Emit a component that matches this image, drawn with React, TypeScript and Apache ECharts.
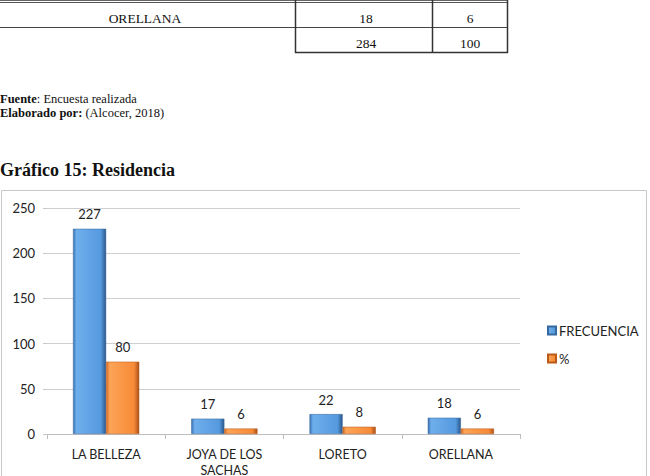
import React, { useEffect, useRef } from "react";
import * as echarts from "echarts";

const categories = ["LA BELLEZA", "JOYA DE LOS\nSACHAS", "LORETO", "ORELLANA"];
const frecuencia = [227, 17, 22, 18];
const porcentaje = [80, 6, 8, 6];
const seriesNames = ["FRECUENCIA", "%"];
const tableLastRow = ["ORELLANA", "18", "6"];
const tableTotals = ["284", "100"];
const yTicks = { min: 0, max: 250, interval: 50 };

const serif = "'Liberation Serif', 'DejaVu Serif', serif";
const sans = "Lato, 'Noto Sans', sans-serif";

function bevel(edgeL: string, light: string, mid: string, edgeR: string) {
  return new echarts.graphic.LinearGradient(0, 0, 1, 0, [
    { offset: 0, color: edgeL },
    { offset: 0.1, color: light },
    { offset: 0.85, color: mid },
    { offset: 1, color: edgeR },
  ]);
}

export default function App() {
  const ref = useRef<HTMLDivElement>(null);

  useEffect(() => {
    if (!ref.current) return;
    const chart = echarts.init(ref.current, null, { renderer: "svg" });
    const line = (x1: number, y1: number, x2: number, y2: number, w = 1, c = "#333") => ({
      type: "line",
      shape: { x1, y1, x2, y2 },
      style: { stroke: c, lineWidth: w },
      silent: true,
    });
    const txt = (x: number, y: number, text: string, font: string, align = "left") => ({
      type: "text",
      x,
      y,
      style: { text, font, fill: "#111", align, verticalAlign: "middle" },
      silent: true,
    });
    const richTxt = (x: number, y: number, text: string) => ({
      type: "text",
      x,
      y,
      style: {
        text,
        font: `12.5px ${serif}`,
        fill: "#111",
        verticalAlign: "middle",
        rich: { b: { fontWeight: "bold", fontFamily: serif, fontSize: 12.5 } },
      },
      silent: true,
    });
    const cell = `13.5px ${serif}`;

    chart.setOption({
      animation: false,
      graphic: [
        // table fragment
        line(0, 0.5, 508, 0.5, 1, "#666"),
        line(0, 2.5, 508, 2.5, 1, "#555"),
        line(0, 27.5, 508, 27.5, 1, "#444"),
        line(295.5, 0, 295.5, 53, 1.5, "#333"),
        line(432.5, 0, 432.5, 53, 1.5, "#333"),
        line(507.5, 0, 507.5, 53, 1.5, "#333"),
        line(295, 52.5, 508, 52.5, 1.5, "#333"),
        txt(145, 18, tableLastRow[0], cell, "center"),
        txt(366, 18, tableLastRow[1], cell, "center"),
        txt(470, 18, tableLastRow[2], cell, "center"),
        txt(366, 43, tableTotals[0], cell, "center"),
        txt(470, 43, tableTotals[1], cell, "center"),
        richTxt(0, 99, "{b|Fuente}: Encuesta realizada"),
        richTxt(0, 113, "{b|Elaborado por:} (Alcocer, 2018)"),
        txt(0, 170, "Gráfico 15: Residencia", `bold 18px ${serif}`),
        // chart frame
        {
          type: "rect",
          shape: { x: 1.5, y: 190.5, width: 645, height: 300 },
          style: { fill: "none", stroke: "#c8c8c8", lineWidth: 1 },
          silent: true,
        },
      ],
      grid: {
        left: 47,
        top: 208,
        width: 473,
        height: 226,
        containLabel: false,
        outerBoundsMode: "none",
      },
      legend: {
        orient: "vertical",
        left: 542,
        top: 319,
        itemWidth: 8,
        itemHeight: 8,
        itemGap: 15,
        icon: "rect",
        textStyle: { fontFamily: sans, fontSize: 13, color: "#222", padding: [0, 0, 0, -2] },
        data: seriesNames,
      },
      xAxis: {
        type: "category",
        data: categories,
        axisLine: { lineStyle: { color: "#bdbdbd" } },
        axisTick: { show: true, length: 5, lineStyle: { color: "#bdbdbd" } },
        axisLabel: { fontFamily: sans, fontSize: 12.5, color: "#222", margin: 12, lineHeight: 16, interval: 0 },
      },
      yAxis: {
        type: "value",
        min: yTicks.min,
        max: yTicks.max,
        interval: yTicks.interval,
        axisLine: { show: false },
        axisTick: { show: true, length: 4, lineStyle: { color: "#c8c8c8" } },
        splitLine: { lineStyle: { color: "#cfcfcf" } },
        axisLabel: { fontFamily: sans, fontSize: 13, color: "#222", margin: 12 },
      },
      series: [
        {
          name: seriesNames[0],
          type: "bar",
          data: frecuencia,
          barGap: "0%",
          barCategoryGap: "44%",
          itemStyle: {
            color: bevel("#3a72b4", "#6eaeec", "#5599de", "#2a5689"),
            borderColor: "#36699f",
            borderWidth: 0.5,
          },
          label: { show: true, position: "top", distance: 8, fontFamily: sans, fontSize: 13, color: "#222" },
        },
        {
          name: seriesNames[1],
          type: "bar",
          data: porcentaje,
          itemStyle: {
            color: bevel("#d4681f", "#fda458", "#f78a36", "#a9501a"),
            borderColor: "#b95a18",
            borderWidth: 0.5,
          },
          label: { show: true, position: "top", distance: 8, fontFamily: sans, fontSize: 13, color: "#222" },
        },
      ],
    });
    return () => chart.dispose();
  }, []);

  return (
    <div
      ref={ref}
      style={{ position: "absolute", left: 0, top: 0, width: 650, height: 476, background: "#fff" }}
    />
  );
}
